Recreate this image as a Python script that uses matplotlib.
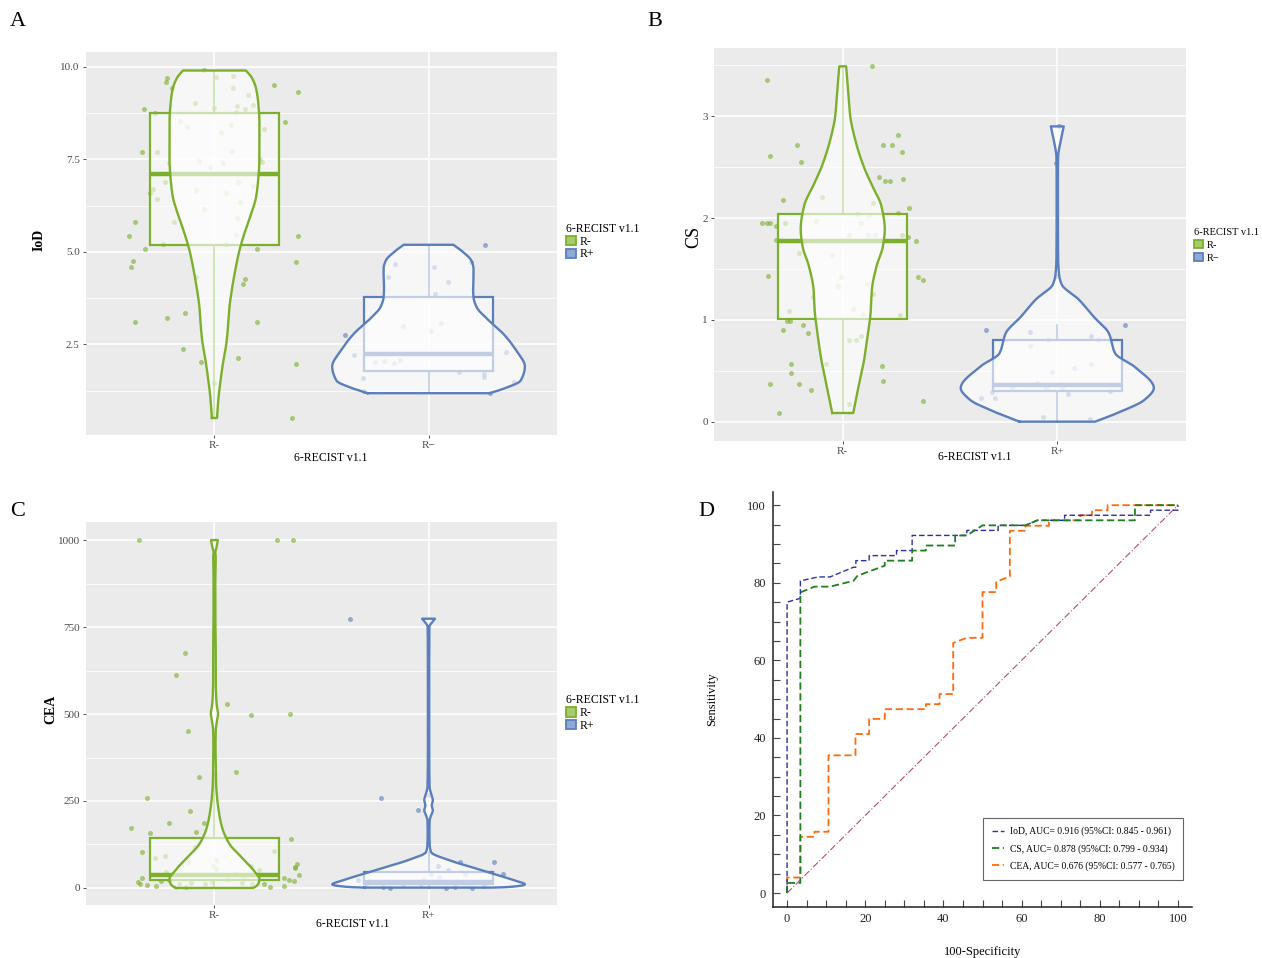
import matplotlib
matplotlib.use('Agg')
import matplotlib.pyplot as plt
import numpy as np
from matplotlib.patches import Patch
from matplotlib.ticker import MultipleLocator, FixedLocator

plt.rcParams['font.family'] = ['Liberation Serif', 'DejaVu Serif']

GREEN = '#7BAF2C'
BLUE = '#5B7EBD'
GREEN_KEY = '#A6CB6C'
BLUE_KEY = '#8FA9D6'

# ---------------- Panel A: IoD ----------------
A_ticks = ['R-', 'R\u2212']
A_legend = ['R-', 'R+']
A_neg_jit = [-0.05, -0.22, -0.225, -0.2, 0.005, 0.085, 0.085, 0.28, 0.39, 0.155, -0.09, 0.105, 0.145, 0.18,
             -0.33, -0.28, 0.0, 0.1, -0.16, 0.33, -0.13, 0.076, 0.23, 0.03, -0.34, -0.27, 0.08, -0.07, 0.215,
             0.22, -0.21, -0.02, 0.04, -0.23, 0.11, 0.18, -0.285, -0.085, 0.055, -0.3, -0.27, 0.12, -0.05,
             -0.37, -0.19, 0.105, -0.4, 0.1, 0.39, -0.24, 0.053, -0.325, 0.2, -0.38, -0.39, 0.38, -0.085,
             0.145, 0.133, -0.37, -0.22, -0.137, 0.2, -0.146, 0.11, -0.063, 0.38, 0.0, 0.36]
A_neg_val = [9.91, 9.69, 9.6, 9.42, 9.73, 9.75, 9.42, 9.5, 9.32, 9.23, 9.02, 8.94, 8.87, 8.96,
             8.86, 8.74, 8.88, 8.77, 8.54, 8.5, 8.38, 8.42, 8.33, 8.25, 7.71, 7.69, 7.72, 7.46, 7.51,
             7.42, 7.39, 7.28, 7.39, 6.88, 6.9, 6.79, 6.71, 6.67, 6.58, 6.58, 6.44, 6.35, 6.16,
             5.81, 5.81, 5.92, 5.43, 5.46, 5.43, 5.2, 5.2, 5.07, 5.07, 4.75, 4.58, 4.73, 4.31,
             4.26, 4.13, 3.1, 3.21, 3.34, 3.1, 2.37, 2.13, 2.03, 1.97, 1.45, 0.5]
A_pos_jit = [0.264, 0.2, -0.158, 0.027, -0.19, 0.093, 0.032, -0.118, 0.059, 0.01, -0.39, -0.346, -0.249,
             -0.21, -0.16, -0.135, 0.36, -0.304, 0.14, 0.26, 0.26, 0.4, -0.3, 0.285]
A_pos_val = [5.19, 4.73, 4.67, 4.58, 4.33, 4.19, 3.87, 2.99, 3.07, 2.85, 2.76, 2.2, 2.02,
             2.04, 1.99, 2.08, 2.29, 1.58, 1.76, 1.7, 1.61, 1.47, 1.23, 1.18]
A_neg_vy = [0.51, 1.0, 1.5, 2.0, 2.5, 3.0, 3.5, 4.0, 4.5, 5.0, 5.5, 6.0, 6.5, 7.0, 7.5, 8.5, 9.0, 9.4, 9.7, 9.9]
A_neg_vw = [0.012, 0.018, 0.028, 0.04, 0.055, 0.064, 0.07, 0.082, 0.097, 0.115, 0.14, 0.17, 0.195, 0.205,
            0.21, 0.21, 0.205, 0.195, 0.175, 0.147]
A_pos_vy = [1.18, 1.3, 1.52, 1.9, 2.33, 2.78, 3.23, 3.5, 3.77, 4.0, 4.31, 4.55, 4.76, 5.0, 5.19]
A_pos_vw = [0.285, 0.35, 0.43, 0.45, 0.41, 0.35, 0.266, 0.225, 0.21, 0.208, 0.21, 0.21, 0.2, 0.16, 0.116]
A_box_neg = [0.51, 5.19, 7.09, 8.74, 9.9]   # whislo, q1, med, q3, whishi
A_box_pos = [1.18, 1.77, 2.24, 3.79, 5.19]

# ---------------- Panel B: CS ----------------
B_ticks = ['R-', 'R+']
B_legend = ['R-', 'R\u2212']
B_neg_jit = [0.137, -0.354, -0.339, -0.213, -0.193, 0.187, 0.228, 0.259, 0.278, 0.169, 0.198, 0.222, 0.283,
             -0.096, -0.28, 0.311, 0.143, -0.126, 0.065, 0.124, 0.256, -0.376, -0.352, -0.337, -0.268,
             -0.309, 0.083, 0.03, 0.12, 0.15, 0.276, 0.302, -0.309, 0.341, -0.206, -0.05, -0.348, -0.006,
             0.35, 0.376, 0.115, -0.022, 0.139, -0.139, 0.05, 0.094, 0.265, -0.25, -0.261, -0.246, -0.187,
             -0.28, -0.161, 0.028, 0.061, 0.087, -0.239, -0.243, 0.185, -0.076, -0.339, -0.206, -0.15,
             0.187, 0.374, 0.031, -0.298]
B_neg_val = [3.49, 3.36, 2.61, 2.72, 2.55, 2.72, 2.72, 2.82, 2.65, 2.4, 2.36, 2.36, 2.38,
             2.21, 2.18, 2.1, 2.15, 1.97, 2.04, 2.03, 2.05, 1.95, 1.95, 1.95, 1.95,
             1.92, 1.95, 1.83, 1.83, 1.83, 1.83, 1.81, 1.78, 1.77, 1.66, 1.64, 1.43, 1.42,
             1.42, 1.39, 1.35, 1.33, 1.25, 1.22, 1.11, 1.06, 1.05, 1.09, 0.99, 0.99, 0.95,
             0.9, 0.87, 0.8, 0.8, 0.84, 0.57, 0.48, 0.55, 0.57, 0.37, 0.37, 0.31,
             0.4, 0.2, 0.17, 0.085]
B_pos_jit = [-0.006, 0.009, -0.006, -0.33, -0.126, 0.315, -0.043, 0.156, 0.189, -0.126, -0.024, 0.078,
             0.157, -0.094, -0.209, -0.052, 0.022, 0.244, 0.05, -0.357, -0.289, -0.306, -0.067, 0.152]
B_pos_val = [2.54, 2.9, 1.43, 0.9, 0.88, 0.95, 0.8, 0.84, 0.8, 0.74, 0.49, 0.53,
             0.57, 0.38, 0.33, 0.33, 0.33, 0.3, 0.27, 0.23, 0.23, 0.29, 0.05, 0.03]
B_neg_vy = [0.085, 0.22, 0.38, 0.61, 0.87, 1.07, 1.3, 1.53, 1.72, 1.89, 2.12, 2.31, 2.51, 2.77, 3.0, 3.26, 3.49]
B_neg_vw = [0.049, 0.062, 0.077, 0.1, 0.118, 0.13, 0.136, 0.158, 0.187, 0.196, 0.18, 0.139, 0.097, 0.058,
            0.035, 0.025, 0.016]
B_pos_vy = [0.0, 0.085, 0.22, 0.33, 0.54, 0.67, 0.87, 1.03, 1.2, 1.35, 1.45, 1.6, 2.0, 2.4, 2.6, 2.75, 2.9]
B_pos_vw = [0.176, 0.28, 0.41, 0.45, 0.36, 0.27, 0.24, 0.17, 0.1, 0.02, 0.008, 0.004, 0.003, 0.003, 0.004,
            0.015, 0.03]
B_box_neg = [0.085, 1.01, 1.77, 2.04, 3.49]
B_box_pos = [0.0, 0.3, 0.36, 0.8, 0.95]

# ---------------- Panel C: CEA ----------------
C_ticks = ['R-', 'R+']
C_legend = ['R-', 'R+']
C_neg_jit = [-0.352, 0.293, 0.367, -0.137, -0.179, 0.059, 0.171, 0.352, -0.125, 0.099, -0.074, -0.316,
             -0.112, -0.211, -0.049, -0.388, -0.302, -0.087, 0.356, -0.34, -0.093, 0.278, -0.278, -0.232,
             0.008, -0.124, 0.386, 0.376, 0.378, -0.008, 0.006, -0.226, 0.209, 0.173, 0.397, -0.338,
             -0.357, -0.35, -0.317, -0.274, -0.249, -0.211, -0.108, -0.131, -0.042, -0.013, 0.101, 0.139,
             0.23, 0.259, 0.325, 0.348, 0.323, 0.373, 0.059, 0.177, 0.129, -0.165]
C_neg_val = [1000, 1000, 1000, 674, 613, 529, 498, 501, 450, 334, 318, 259,
             222, 188, 188, 171, 159, 161, 140, 103, 118, 107, 85, 93,
             81, 74, 70, 60, 56, 62, 55, 46, 51, 63, 38, 29,
             17, 11, 8, 5, 19, 24, 15, 2, 11, 17, 39, 32,
             12, 2, 5, 22, 30, 19, 27, 12, 14, 11]
C_pos_jit = [-0.367, -0.224, -0.049, 0.0, 0.146, 0.308, 0.042, 0.089, 0.013, 0.051, 0.171, 0.346,
             -0.329, -0.291, -0.215, -0.181, -0.12, -0.034, 0.08, 0.124, 0.203, 0.26, -0.025, 0.213]
C_pos_val = [774, 260, 223, 266, 75, 75, 62, 51, 39, 32, 39, 41,
             22, 12, 3, 1, 12, 10, 1, 3, 1, 5, 22, 17]
C_neg_vy = [0, 3, 12, 27, 41, 60, 79, 99, 118, 137, 175, 213, 261, 309, 357, 405, 453, 482, 501, 520,
            549, 596, 692, 740, 788, 884, 950, 965, 980, 1000]
C_neg_vw = [0.18, 0.19, 0.205, 0.21, 0.195, 0.17, 0.14, 0.11, 0.08, 0.06, 0.035, 0.022, 0.012, 0.007, 0.006,
            0.005, 0.006, 0.012, 0.017, 0.012, 0.008, 0.006, 0.006, 0.005, 0.004, 0.004, 0.006, 0.004,
            0.01, 0.016]
C_pos_vy = [1, 3, 10, 22, 41, 60, 79, 103, 118, 156, 194, 209, 223, 237, 252, 271, 290, 400, 600, 750, 774]
C_pos_vw = [0.3, 0.38, 0.45, 0.4, 0.3, 0.2, 0.1, 0.012, 0.006, 0.004, 0.005, 0.012, 0.02, 0.015, 0.02,
            0.012, 0.005, 0.003, 0.003, 0.004, 0.03]
C_box_neg = [2, 22, 36, 144, 330]
C_box_pos = [0, 10, 17, 45, 103]

# ---------------- Panel D: ROC ----------------
roc_labels = ['IoD, AUC= 0.916 (95%CI: 0.845 - 0.961)',
              'CS, AUC= 0.878 (95%CI: 0.799 - 0.934)',
              'CEA, AUC= 0.676 (95%CI: 0.577 - 0.765)']
iod_fpr = [0, 0, 3.4, 3.4, 8, 11, 17, 17.6, 17.6, 21, 21, 28, 28, 32, 32, 46, 46, 50, 54, 54, 61, 64,
           71, 71, 93, 93, 100, 100]
iod_tpr = [0, 75, 76, 80.5, 81.5, 81.5, 84, 84, 85.7, 85.7, 87, 87, 88.3, 88.3, 92.2, 92.2, 93.5, 93.5,
           93.5, 94.8, 94.8, 96.1, 96.1, 97.4, 97.4, 98.7, 98.7, 100]
cs_fpr = [0, 0, 3.4, 3.4, 7, 11, 17, 18, 25, 25, 32, 32, 35.5, 35.5, 43, 43, 46, 50, 61, 64, 89, 89, 100]
cs_tpr = [0, 2.6, 2.6, 77.5, 79, 79, 80.5, 81.8, 84.4, 85.7, 85.7, 88.3, 88.3, 89.6, 89.6, 92.2, 92.2,
          94.8, 94.8, 96.1, 96.1, 100, 100]
cea_fpr = [0, 0, 3.4, 3.4, 7, 7, 10.6, 10.6, 17.5, 17.5, 21, 21, 25, 25, 35.5, 35.5, 39, 39, 42.5, 42.5,
           46, 50, 50, 53.5, 53.5, 57, 57, 61, 61, 67, 67, 75, 75, 78, 78, 82, 82, 100]
cea_tpr = [0, 4, 4, 14.5, 14.5, 15.8, 15.8, 35.5, 35.5, 41, 41, 44.9, 44.9, 47.4, 47.4, 48.7, 48.7, 51.3,
           51.3, 64.5, 65.8, 65.8, 77.6, 77.6, 80.3, 81.6, 93.4, 93.4, 94.7, 94.7, 96.1, 96.1, 97.4, 97.4,
           98.7, 98.7, 100, 100]
ref_line = [0, 100]

W, H = 1262, 958
fig = plt.figure(figsize=(W / 100, H / 100), dpi=100)


def frac(x0, y0, x1, y1):
    return [x0 / W, 1 - y1 / H, (x1 - x0) / W, (y1 - y0) / H]


def pchip(x, y, xn):
    """Monotone piecewise cubic Hermite interpolation (no overshoot)."""
    x = np.asarray(x, float)
    y = np.asarray(y, float)
    h = np.diff(x)
    delta = np.diff(y) / h
    n = len(x)
    d = np.zeros(n)
    for k in range(1, n - 1):
        if delta[k - 1] * delta[k] > 0:
            w1 = 2 * h[k] + h[k - 1]
            w2 = h[k] + 2 * h[k - 1]
            d[k] = (w1 + w2) / (w1 / delta[k - 1] + w2 / delta[k])
    d[0] = delta[0]
    d[-1] = delta[-1]
    idx = np.clip(np.searchsorted(x, xn) - 1, 0, n - 2)
    t = (xn - x[idx]) / h[idx]
    h00 = 2 * t ** 3 - 3 * t ** 2 + 1
    h10 = t ** 3 - 2 * t ** 2 + t
    h01 = -2 * t ** 3 + 3 * t ** 2
    h11 = t ** 3 - t ** 2
    return h00 * y[idx] + h10 * h[idx] * d[idx] + h01 * y[idx + 1] + h11 * h[idx] * d[idx + 1]


def gg_panel(ax, ylim, major, minor, ticks, legend_labels, ylabel, ylab_pos, xlab_pos,
             leg_anchor, leg_size=8.5, leg_space=0.05, ylab_size=10, ylab_weight='bold'):
    ax.set_facecolor('#EBEBEB')
    for s in ax.spines.values():
        s.set_visible(False)
    ax.set_xlim(0.4, 2.6)
    ax.set_ylim(*ylim)
    ax.yaxis.set_major_locator(FixedLocator(major))
    ax.yaxis.set_minor_locator(FixedLocator(minor))
    ax.set_xticks([1, 2])
    ax.set_xticklabels(ticks)
    ax.grid(which='major', color='white', lw=1.1)
    ax.grid(which='minor', axis='y', color='white', lw=0.55)
    ax.set_axisbelow(True)
    ax.tick_params(which='major', length=2.5, width=0.6, color='#333333', labelsize=8,
                   labelcolor='#4D4D4D', pad=2)
    ax.tick_params(which='minor', length=0)
    ax.set_ylabel(ylabel, fontsize=ylab_size, fontweight=ylab_weight)
    ax.yaxis.set_label_coords(*ylab_pos)
    ax.set_xlabel('6-RECIST v1.1', fontsize=8.5)
    ax.xaxis.set_label_coords(*xlab_pos)
    handles = [Patch(facecolor=GREEN_KEY, edgecolor=GREEN, lw=1.3),
               Patch(facecolor=BLUE_KEY, edgecolor=BLUE, lw=1.3)]
    leg = ax.legend(handles, legend_labels, title='6-RECIST v1.1', loc='upper left',
                    bbox_to_anchor=leg_anchor, frameon=False, fontsize=leg_size, title_fontsize=leg_size,
                    handlelength=0.8, handleheight=0.85, handletextpad=0.35, labelspacing=leg_space,
                    borderaxespad=0, borderpad=0)
    leg._legend_box.align = 'left'


def draw_group(ax, pos, color, jit, vals, vy, vw, box):
    ax.scatter(pos + np.array(jit), vals, s=13, color=color, alpha=0.6, lw=0, zorder=2)
    stats = [dict(whislo=box[0], q1=box[1], med=box[2], q3=box[3], whishi=box[4], fliers=[])]
    ax.bxp(stats, positions=[pos], widths=0.6, patch_artist=True, showcaps=False, showfliers=False,
           boxprops=dict(facecolor=(1, 1, 1, 0.55), edgecolor=color, lw=1.6),
           medianprops=dict(color=color, lw=3.2),
           whiskerprops=dict(color=color, lw=1.2), zorder=3, manage_ticks=False)
    yy = np.linspace(vy[0], vy[-1], 600)
    ww = np.clip(pchip(vy, vw, yy), 0.002, None)
    ax.fill_betweenx(yy, pos - ww, pos + ww, facecolor=(1, 1, 1, 0.62), edgecolor='none', zorder=4)
    xs = np.concatenate([pos - ww, (pos + ww)[::-1], [pos - ww[0]]])
    ys = np.concatenate([yy, yy[::-1], [yy[0]]])
    ax.plot(xs, ys, color=color, lw=1.7, zorder=5, solid_joinstyle='round')


# Panel A
axA = fig.add_axes(frac(86, 52, 557, 435))
draw_group(axA, 1, GREEN, A_neg_jit, A_neg_val, A_neg_vy, A_neg_vw, A_box_neg)
draw_group(axA, 2, BLUE, A_pos_jit, A_pos_val, A_pos_vy, A_pos_vw, A_box_pos)
gg_panel(axA, (0.05, 10.4), [2.5, 5.0, 7.5, 10.0], [1.25, 3.75, 6.25, 8.75], A_ticks, A_legend,
         'IoD', (-0.085, 0.51), (0.52, -0.045), (1.02, 0.553))
axA.set_yticklabels(['2.5', '5.0', '7.5', '10.0'])

# Panel B
axB = fig.add_axes(frac(714, 48, 1186, 441))
draw_group(axB, 1, GREEN, B_neg_jit, B_neg_val, B_neg_vy, B_neg_vw, B_box_neg)
draw_group(axB, 2, BLUE, B_pos_jit, B_pos_val, B_pos_vy, B_pos_vw, B_box_pos)
gg_panel(axB, (-0.19, 3.67), [0, 1, 2, 3], [0.5, 1.5, 2.5, 3.5], B_ticks, B_legend,
         'CS', (-0.025, 0.52), (0.553, -0.025), (1.018, 0.542), leg_size=7.5, leg_space=0.3,
         ylab_size=13, ylab_weight='normal')

# Panel C
axC = fig.add_axes(frac(86, 522, 557, 905))
draw_group(axC, 1, GREEN, C_neg_jit, C_neg_val, C_neg_vy, C_neg_vw, C_box_neg)
draw_group(axC, 2, BLUE, C_pos_jit, C_pos_val, C_pos_vy, C_pos_vw, C_box_pos)
gg_panel(axC, (-49, 1052), [0, 250, 500, 750, 1000], [125, 375, 625, 875], C_ticks, C_legend,
         'CEA', (-0.06, 0.51), (0.567, -0.035), (1.02, 0.55))

# Panel D
axD = fig.add_axes(frac(773, 492, 1192, 907))
axD.plot(ref_line, ref_line, color='#B0506A', lw=0.8, ls=(0, (6, 2, 1, 2)), zorder=1)
axD.plot(iod_fpr, iod_tpr, color='#2E2EA6', lw=1.0, ls=(0, (4, 2)), label=roc_labels[0], zorder=3)
axD.plot(cs_fpr, cs_tpr, color='#1E7E1E', lw=1.3, ls=(0, (4, 2)), label=roc_labels[1], zorder=3)
axD.plot(cea_fpr, cea_tpr, color='#FF6A10', lw=1.3, ls=(0, (4, 2)), label=roc_labels[2], zorder=2)
axD.set_xlim(-3.6, 103.6)
axD.set_ylim(-3.6, 103.4)
for s in ['top', 'right']:
    axD.spines[s].set_visible(False)
for s in ['left', 'bottom']:
    axD.spines[s].set_linewidth(1.1)
    axD.spines[s].set_color('#222222')
axD.xaxis.set_major_locator(MultipleLocator(20))
axD.xaxis.set_minor_locator(MultipleLocator(5))
axD.yaxis.set_major_locator(MultipleLocator(20))
axD.yaxis.set_minor_locator(MultipleLocator(5))
axD.tick_params(which='both', direction='in', length=5, width=0.8, color='#444444', labelsize=9,
                labelcolor='#222222')
axD.tick_params(axis='x', pad=4)
axD.tick_params(axis='y', pad=5)
axD.set_xlabel('100-Specificity', fontsize=9)
axD.xaxis.set_label_coords(0.5, -0.095)
axD.set_ylabel('Sensitivity', fontsize=9)
axD.yaxis.set_label_coords(-0.13, 0.5)
legD = axD.legend(loc='lower left', bbox_to_anchor=(0.501, 0.065, 0.477, 0.1615), mode='expand',
                  fontsize=6.9, handlelength=1.3, handletextpad=0.6, labelspacing=0.8, borderpad=0.95,
                  fancybox=False, framealpha=1, edgecolor='#666666', borderaxespad=0)
legD.get_frame().set_linewidth(0.8)

# panel letters
for letter, (px, py) in zip('ABCD', [(18, 22), (655, 22), (18, 511), (706, 511)]):
    fig.text(px / W, 1 - py / H, letter, fontsize=16, ha='center', va='center')

fig.savefig('out.png', dpi=100, facecolor='white')
